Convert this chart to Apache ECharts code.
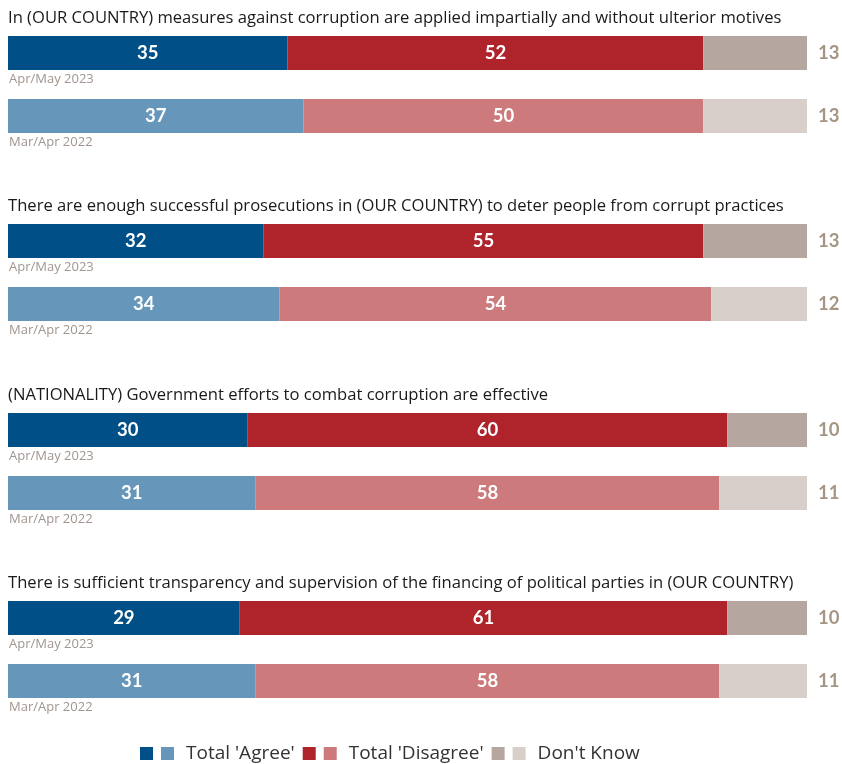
<!DOCTYPE html>
<html>
<head>
<meta charset="utf-8">
<script src="https://cdn.jsdelivr.net/npm/echarts@6/dist/echarts.min.js"></script>
<style>
  html, body { margin: 0; padding: 0; background: #fff; }
  #chart { width: 842px; height: 764px; }
</style>
</head>
<body>
<div id="chart"></div>
<script>
// statements (one per group)
const statements = [
  "In (OUR COUNTRY) measures against corruption are applied impartially and without ulterior motives",
  "There are enough successful prosecutions in (OUR COUNTRY) to deter people from corrupt practices",
  "(NATIONALITY) Government efforts to combat corruption are effective",
  "There is sufficient transparency and supervision of the financing of political parties in (OUR COUNTRY)"
];
const waves = ["Apr/May 2023", "Mar/Apr 2022"];

const agree2023 = [35, 32, 30, 29];
const agree2022 = [37, 34, 31, 31];
const disagree2023 = [52, 55, 60, 61];
const disagree2022 = [50, 54, 58, 58];
const dontKnow2023 = [13, 13, 10, 10];
const dontKnow2022 = [13, 12, 11, 11];

const legendText = {
  agree23: "", agree22: "Total 'Agree'",
  dis23: "", dis22: "Total 'Disagree'",
  dk23: "", dk22: "Don't Know"
};

const FONT = "Lato";
const TFONT = "Open Sans";
const colors = {
  agree23: "#004f86", agree22: "#6696ba",
  dis23: "#af232b", dis22: "#cd7a7c",
  dk23: "#b5a7a0", dk22: "#d8cfcb"
};

const chart = echarts.init(document.getElementById("chart"));

// group layout
const gridTops = [21.5, 209.5, 398.5, 586.5];
const gridH = 126;

let grids = [], xAxes = [], yAxes = [], titles = [], series = [];

statements.forEach(function (s, i) {
  grids.push({ left: 8, width: 799, top: gridTops[i], height: gridH });
  titles.push({
    text: s, left: 8, top: gridTops[i] - 12, padding: 0,
    textStyle: { fontFamily: TFONT, fontSize: 16.6, fontWeight: "normal", color: "#1a1a1a" }
  });
  xAxes.push({
    gridIndex: i, type: "value", min: 0, max: 100, show: false
  });
  yAxes.push({
    gridIndex: i, type: "category", inverse: true, data: waves,
    axisLine: { show: false }, axisTick: { show: false }, splitLine: { show: false },
    axisLabel: {
      inside: true, margin: 0, align: "left", verticalAlign: "top",
      padding: [20, 0, 0, 1],
      fontFamily: TFONT, fontSize: 13, color: "#a0958f"
    }
  });

  const valueLabel = {
    show: true, position: "inside", color: "#fff",
    fontFamily: FONT, fontWeight: "bold", fontSize: 18.5
  };
  const dkLabel = {
    show: true, position: "right", distance: 11, color: "#a59585",
    fontFamily: FONT, fontWeight: "bold", fontSize: 18.5
  };
  const rows = [
    ["agree23", [agree2023[i], "-"], valueLabel],
    ["agree22", ["-", agree2022[i]], valueLabel],
    ["dis23", [disagree2023[i], "-"], valueLabel],
    ["dis22", ["-", disagree2022[i]], valueLabel],
    ["dk23", [dontKnow2023[i], "-"], dkLabel],
    ["dk22", ["-", dontKnow2022[i]], dkLabel]
  ];
  rows.forEach(function (r) {
    series.push({
      name: r[0], type: "bar", stack: "g" + i,
      xAxisIndex: i, yAxisIndex: i,
      barWidth: 34, data: r[1],
      itemStyle: { color: colors[r[0]] },
      label: r[2],
      emphasis: { disabled: true }
    });
  });
});

const option = {
  animation: false,
  title: titles,
  grid: grids,
  xAxis: xAxes,
  yAxis: yAxes,
  legend: {
    top: 739, left: 135,
    data: Object.keys(legendText),
    itemWidth: 13, itemHeight: 13, itemGap: 8,
    icon: "rect",
    formatter: function (name) { return legendText[name]; },
    textStyle: { fontFamily: TFONT, fontSize: 19, color: "#333", padding: [0, 0, 0, 7] },
    selectedMode: false
  },
  series: series
};

chart.setOption(option);
</script>
</body>
</html>
